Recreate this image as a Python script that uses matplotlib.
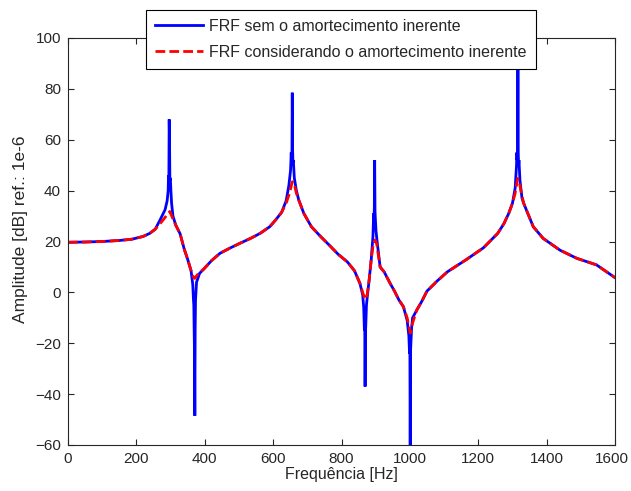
import matplotlib
matplotlib.use("Agg")
import matplotlib.pyplot as plt
from matplotlib.transforms import ScaledTranslation

# ---- data ----
red_freq = [0, 50, 100, 150, 187, 220, 239, 255, 270, 283, 292, 298, 305, 315, 328, 340,
            350, 360, 366, 371, 376, 385, 396, 420, 445, 475, 503, 535, 562, 590, 607, 625,
            638, 648, 656, 662, 668, 675, 690, 712, 740, 764, 790, 817, 838, 854, 862, 869,
            875, 881, 887, 893, 898, 903, 913, 925, 942, 955, 968, 981, 992, 1001, 1008, 1020,
            1035, 1050, 1080, 1110, 1163, 1215, 1257, 1275, 1289, 1300, 1308, 1315, 1320, 1326,
            1333, 1342, 1361, 1390, 1439, 1488, 1546, 1600]
red_db = [19.7, 19.8, 20.0, 20.4, 20.9, 22.0, 23.2, 24.8, 27.1, 29.3, 31.0, 31.8, 29.5, 26.5, 23.0, 17.0,
          13.0, 8.5, 6.2, 5.5, 6.5, 8.0, 9.0, 12.5, 15.4, 17.5, 19.3, 21.3, 23.2, 25.8, 28.4, 31.5,
          35.0, 39.0, 43.5, 42.5, 39.0, 36.3, 31.0, 25.8, 21.8, 18.6, 15.0, 12.0, 8.5, 3.5, 0.0, -2.8,
          -1.0, 5.0, 13.0, 19.0, 20.6, 19.0, 10.0, 8.0, 3.6, 0.5, -3.0, -5.6, -10.0, -16.0, -12.0, -7.0,
          -3.5, 0.5, 4.5, 8.1, 12.7, 17.5, 23.2, 27.0, 31.0, 35.0, 39.0, 44.8, 43.5, 39.0,
          35.0, 32.0, 25.8, 21.2, 16.6, 13.4, 10.8, 5.8]

blue_freq = [0, 50, 100, 150, 187, 220, 239, 255, 269, 284, 290, 293, 294, 295, 296, 297, 298,
             299, 300, 301, 303, 307, 315, 328, 340, 350, 360, 365, 367, 368, 369, 370, 371, 372,
             373, 376, 385, 396, 420, 445, 475, 503, 535, 562, 590, 607, 625, 638, 646, 651,
             653, 654, 655, 656, 657, 658, 659, 662, 668, 675, 690, 712, 740, 764, 790, 817, 838, 854,
             862, 865, 867, 868, 869, 870, 871, 873, 876, 881, 887, 892, 894, 895, 896, 897, 898, 899, 901,
             905, 913, 925, 942, 955, 968, 981, 992, 997, 999, 1000, 1001, 1002, 1003, 1005, 1008, 1020,
             1035, 1050, 1080, 1110, 1163, 1215, 1257, 1275, 1289, 1300, 1308, 1312, 1313, 1314, 1315,
             1316, 1317, 1318, 1319, 1322, 1328, 1333, 1342, 1361, 1390, 1439, 1488, 1546, 1600]
blue_db = [19.7, 19.8, 20.0, 20.4, 20.9, 22.0, 23.2, 24.8, 28.4, 32.5, 36.0, 40.0, 46.0, 44.0, 68.0, 60.0, 44.0,
           45.0, 43.0, 40.0, 35.0, 30.0, 26.5, 23.0, 17.0, 13.0, 8.5, 3.0, -3.0, -5.0, -14.0, -24.0, -48.5, -14.0,
           -3.0, 4.0, 7.5, 9.0, 12.5, 15.4, 17.5, 19.3, 21.3, 23.2, 25.8, 28.4, 31.5, 36.0, 42.0, 48.0,
           55.0, 50.0, 52.0, 78.5, 56.0, 51.0, 52.0, 45.0, 40.0, 36.3, 31.0, 25.8, 21.8, 18.6, 15.0, 12.0, 8.5, 3.5,
           -1.0, -6.0, -15.0, -12.0, -37.0, -16.0, -13.0, -5.0, -1.0, 5.0, 13.0, 22.0, 31.0, 28.0, 33.0, 52.0, 32.0, 29.0, 24.0,
           19.0, 10.0, 8.0, 3.6, 0.5, -3.0, -5.6, -11.0, -17.0, -24.0, -20.0, -62.0, -23.0, -20.0, -14.0, -10.0, -7.0,
           -3.5, 0.5, 4.5, 8.1, 12.7, 17.5, 23.2, 27.0, 31.0, 35.0, 41.0, 50.0, 55.0, 52.0, 54.0,
           89.5, 55.0, 50.0, 52.0, 44.0, 37.0, 35.0, 32.0, 25.8, 21.2, 16.6, 13.4, 10.8, 5.8]

x_ticks = [0, 200, 400, 600, 800, 1000, 1200, 1400, 1600]
y_ticks = [-60, -40, -20, 0, 20, 40, 60, 80, 100]
label_blue = "FRF sem o amortecimento inerente"
label_red = "FRF considerando o amortecimento inerente"
x_label = "Frequência [Hz]"
y_label = "Amplitude [dB] ref.: 1e-6"

plt.rcParams['font.family'] = ['Liberation Sans', 'DejaVu Sans']
fs = 11.5
tick_fs = 11
axis_col = '#262626'

fig = plt.figure(figsize=(6.31, 4.91), dpi=100)
ax = fig.add_axes([68 / 631, 1 - 445 / 491, (615 - 68) / 631, (445 - 38) / 491])

ax.plot(blue_freq, blue_db, color=(0, 0, 1), lw=2.0, solid_joinstyle='miter', label=label_blue)
ax.plot(red_freq, red_db, color=(1, 0, 0), lw=2.0, linestyle=(0, (3.5, 1.5)), label=label_red)

ax.set_xlim(0, 1600)
ax.set_ylim(-60, 100)
ax.set_xticks(x_ticks)
ax.set_yticks(y_ticks)
ax.tick_params(direction='in', length=4, width=0.8, top=True, right=True,
               labelsize=tick_fs, colors=axis_col)
ax.tick_params(axis='x', pad=5)
ax.tick_params(axis='y', pad=5)
for s in ax.spines.values():
    s.set_color(axis_col)
    s.set_linewidth(0.8)

# keep the last x tick label inside the canvas
fig.canvas.draw()
last = ax.get_xticklabels()[-1]
last.set_transform(last.get_transform() + ScaledTranslation(-3 / 100, 0, fig.dpi_scale_trans))

ax.set_xlabel(x_label, fontsize=fs, color=axis_col)
ax.set_ylabel(y_label, fontsize=12.5, color=axis_col)
ax.xaxis.set_label_coords(0.5, -0.054)
ax.yaxis.set_label_coords(-0.073, 0.531)

leg = ax.legend(loc='upper center', bbox_to_anchor=(341 / 631, 1 - 10 / 491),
                bbox_transform=fig.transFigure, fontsize=fs, fancybox=False,
                framealpha=1, edgecolor='black', handlelength=3.0, handletextpad=0.4,
                labelspacing=0.7, borderpad=0.55, borderaxespad=0)
leg.get_frame().set_linewidth(0.8)
for t in leg.get_texts():
    t.set_color(axis_col)

fig.savefig("out.png", dpi=100)
